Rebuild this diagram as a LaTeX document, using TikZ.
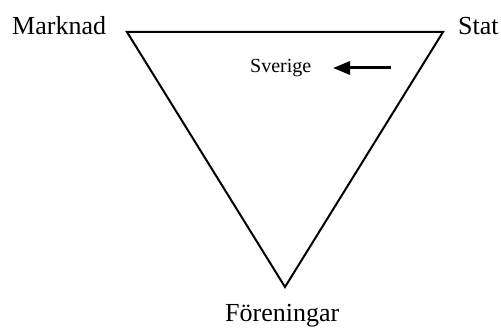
\documentclass[tikz,border=0pt]{standalone}
\usepackage{fontspec}
\setmainfont{Liberation Serif}
\usetikzlibrary{arrows.meta}
\begin{document}
\begin{tikzpicture}[x=1pt,y=-1pt,
  lbl/.style={font=\fontsize{26}{28}\selectfont, anchor=base west, inner sep=0pt},
  small/.style={font=\fontsize{20}{22}\selectfont, anchor=base west, inner sep=0pt},
  tri/.style={line width=2pt, line join=miter},
  arr/.style={line width=3pt, -{Triangle[length=17pt,width=13pt]}}]
\useasboundingbox (0,0) rectangle (501,329);
\coordinate (L) at (127,32);
\coordinate (R) at (443,32);
\coordinate (B) at (285,287);
\draw[tri] (L) -- (R) -- (B) -- cycle;
\node[lbl] (m) at (12,35) {Marknad};
\node[lbl] (s) at (458,35) {Stat};
\node[lbl] (f) at (225,321) {Föreningar};
\node[small] (sv) at (250,73) {Sverige};
\coordinate (a0) at (391,68);
\coordinate (a1) at (333,68);
\draw[arr] (a0) -- (a1);
\end{tikzpicture}
\end{document}
